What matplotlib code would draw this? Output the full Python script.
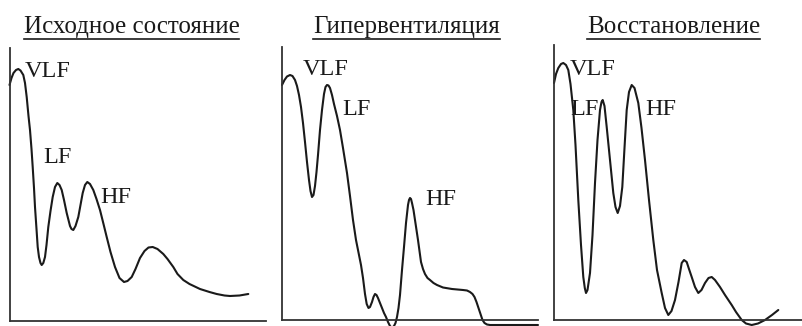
import matplotlib
matplotlib.use('Agg')
import matplotlib.pyplot as plt
from matplotlib.lines import Line2D

plt.rcParams['font.family'] = ['Liberation Serif', 'DejaVu Serif']

# spectra (x, y in pixel-like units from the axis origin)
titles = ['Исходное состояние', 'Гипервентиляция', 'Восстановление']

x1 = [0, 2, 4, 6.5, 8.8, 11, 13.8, 15.5, 17.2, 19, 20.5, 22, 23.2, 24.5, 25.5, 27, 28.2,
      29.5, 31, 32.2, 33.8, 35.5, 37, 38.8, 41, 43.2, 45.5, 47.8, 50, 52.2, 54.5, 57.2,
      60.5, 62, 63.8, 66, 68.8, 71, 73.2, 75.5, 77.8, 80.5, 83.8, 87, 90.5, 94, 97.2, 101,
      105.5, 110, 114.5, 118, 122.2, 126, 130.5, 135, 139, 143.2, 148, 153.8, 158, 163.8,
      168, 173.8, 180, 190.5, 200, 207.2, 215, 220.5, 230, 238.8]
y1 = [236, 243, 248, 251, 252, 250.5, 246, 238, 224, 205, 191, 172, 154, 133, 114, 92, 74,
      64, 58, 56, 58, 64, 76, 94, 110, 124, 134, 138, 136, 131, 121, 108,
      95, 92, 91, 95, 104, 116, 128, 136, 139, 137, 131, 122, 111, 97, 84, 69,
      54, 43, 39, 40, 44, 52, 63, 70, 73.5, 74, 72, 67, 62, 54,
      47, 41, 37, 32, 29, 27, 25.5, 25, 25.5, 27]

x2 = [0, 2.5, 5, 8, 10.5, 13, 15, 17, 19, 21, 23, 25, 27, 28.5, 30, 31.5, 33, 34.5, 36, 38,
      40, 42, 43.5, 45, 46.5, 48, 50, 52, 55, 58, 61, 65, 68, 71, 74, 77, 79, 81, 83, 84.7,
      86.5, 88, 90, 91.5, 93, 94.5, 96, 98, 100, 102, 104, 106, 108, 110, 112, 113.5, 115,
      116.5, 118, 120, 122, 124, 126, 127, 128, 129, 130, 131.5, 133, 134.5, 136, 137.5,
      139, 141, 143, 145.5, 148, 151.5, 155, 161, 170, 181, 185, 188, 190.5, 192.5, 194.5,
      196.5, 198.5, 200.5, 202.5, 205, 208, 256]
y2 = [235, 240, 243.5, 245, 244, 240, 234, 225, 213, 197, 178, 158, 140, 129, 123, 125,
      134, 148, 165, 190, 210, 226, 233, 235, 234.5, 232, 225, 216, 204, 190, 172, 147,
      124, 100, 80, 65, 55, 42, 26, 16, 12, 13, 18, 23, 26, 25, 22, 17, 12, 7, 3, -2, -6,
      -8, -6, -3, 3, 12, 25, 50, 73, 97, 115, 120, 122, 121, 117, 110, 100, 90, 80, 69,
      58, 51, 46, 42, 40, 37, 35, 32.5, 31, 30, 29.5, 28, 26, 23, 18, 12, 6, 0, -3, -4.5,
      -5, -5]

x3 = [0, 2, 4.3, 7, 9.3, 12, 14.3, 16.5, 19.3, 21.5, 24.3, 27, 29.3, 30.8, 32, 33.5, 36,
      38.5, 41, 43.5, 46, 47.5, 48.7, 50.5, 52.7, 56, 59.3, 61.5, 63.7, 66, 68.3, 70.5,
      72.7, 75, 77.7, 80.5, 84.3, 87.5, 91, 95, 99.3, 103, 107.7, 111, 114.3, 117.5, 121,
      124.5, 127.7, 130, 132.7, 135, 137.7, 141, 144.3, 147.5, 151, 154.5, 157.7, 161,
      166, 171, 177.7, 182, 187.7, 192, 197.7, 204, 211, 218, 224.3]
y3 = [237, 246, 252, 256, 257, 255, 250, 236, 210, 175, 120, 75, 43, 32, 27, 30, 47,
      85, 137, 180, 210, 218, 220, 214, 193, 160, 127, 113, 107, 114, 133, 172,
      210, 228, 235, 232, 217, 192, 160, 120, 80, 50, 27, 12, 5, 9, 20,
      38, 57, 60, 58, 51, 43, 33, 27, 30, 37, 42, 43, 40,
      33, 25, 15, 8, 0, -3.5, -5, -3.5, 0, 5, 10]

labels = [
    [('VLF', 15.5, 244), ('LF', 33.5, 158), ('HF', 90.5, 118)],
    [('VLF', 21, 245), ('LF', 60, 205), ('HF', 143, 115)],
    [('VLF', 16, 245), ('LF', 16, 205), ('HF', 91, 205)],
]

W, H = 802, 326
fig = plt.figure(figsize=(W / 100, H / 100), dpi=100)

# axis origin, width, height in pixels
boxes = [(9.5, 321, 256.5, 273), (282, 320, 256, 273), (554, 320, 248, 275)]
title_x = [131.5, 406.5, 673.5]
curves = [(x1, y1), (x2, y2), (x3, y3)]

for i, (ox, oy, w, h) in enumerate(boxes):
    ax = fig.add_axes([ox / W, (H - oy) / H, w / W, h / H])
    ax.set_xlim(0, w)
    ax.set_ylim(0, h)
    ax.patch.set_alpha(0)
    for s in ['top', 'right']:
        ax.spines[s].set_visible(False)
    for s in ['left', 'bottom']:
        ax.spines[s].set_linewidth(1.3)
        ax.spines[s].set_color('#333333')
    ax.set_xticks([])
    ax.set_yticks([])
    xs, ys = curves[i]
    ax.plot(xs, ys, color='#1a1a1a', lw=1.5, clip_on=False,
            solid_joinstyle='round', solid_capstyle='round')
    for t, tx, ty in labels[i]:
        ax.text(tx, ty, t, fontsize=17.5, ha='left', va='baseline', color='#1a1a1a')

renderer = fig.canvas.get_renderer()
for i, t in enumerate(titles):
    txt = fig.text(title_x[i] / W, 1 - 33 / H, t, fontsize=18, ha='center',
                   va='baseline', color='#1a1a1a')
    bb = txt.get_window_extent(renderer)
    uy = 1 - 38.5 / H
    fig.add_artist(Line2D([bb.x0 / W, bb.x1 / W], [uy, uy], transform=fig.transFigure,
                          color='#1a1a1a', lw=1.2))

fig.savefig('out.png', dpi=100)
